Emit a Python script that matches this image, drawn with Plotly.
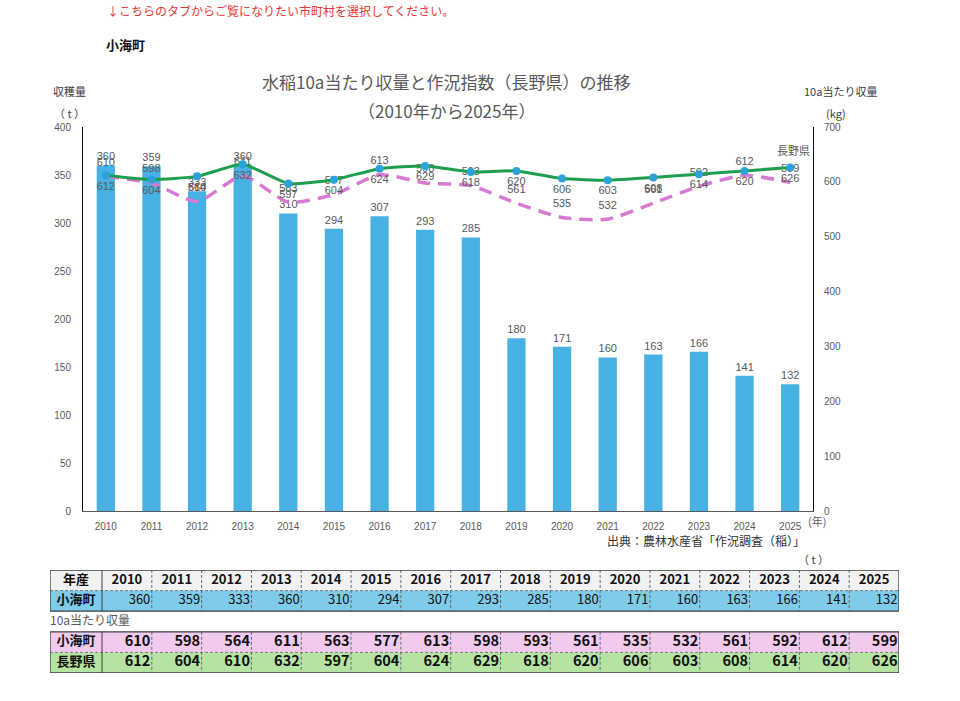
import plotly.graph_objects as go

years = [2010, 2011, 2012, 2013, 2014, 2015, 2016, 2017, 2018, 2019, 2020, 2021, 2022, 2023, 2024, 2025]
harvest_t = [360, 359, 333, 360, 310, 294, 307, 293, 285, 180, 171, 160, 163, 166, 141, 132]
yield_town = [610, 598, 564, 611, 563, 577, 613, 598, 593, 561, 535, 532, 561, 592, 612, 599]
yield_pref = [612, 604, 610, 632, 597, 604, 624, 629, 618, 620, 606, 603, 608, 614, 620, 626]
town_name = "小海町"
pref_name = "長野県"
table_head = "年産"
table_sub = "10a当たり収量"

FIG_W, FIG_H = 960, 701
L, R, T, B = 50, 61, 127, 20
W = FIG_W - L - R
H = FIG_H - T - B


def px(x, y):
    return (x - L) / W, (FIG_H - B - y) / H


JP = "Noto Sans CJK JP"
NUM = "Liberation Sans"
GRAY = "#595959"

xcat = [str(y) for y in years]

fig = go.Figure()
fig.add_trace(go.Bar(
    x=xcat, y=harvest_t, marker=dict(color="#46b1e2", line=dict(width=0)),
    text=[str(v) for v in harvest_t], textposition="outside", constraintext="none",
    textfont=dict(size=11, color=GRAY, family=NUM), cliponaxis=False,
    width=0.4, yaxis="y", name="収穫量", hoverinfo="skip",
))
fig.add_trace(go.Scatter(
    x=xcat, y=yield_town, mode="lines+markers+text", yaxis="y2",
    line=dict(color="#d67ad2", width=3.5, dash="13px,8px", shape="spline", smoothing=0.6),
    marker=dict(size=11, color="rgba(0,0,0,0)"),
    text=[str(v) for v in yield_town], textposition="top center",
    textfont=dict(size=11, color=GRAY, family=NUM), cliponaxis=False, name=town_name,
))
fig.add_trace(go.Scatter(
    x=xcat, y=yield_pref, mode="lines+markers+text", yaxis="y2",
    line=dict(color="#1e9f4e", width=3, shape="spline", smoothing=0.5),
    marker=dict(size=8, color="#2ba3d9"),
    text=[str(v) for v in yield_pref], textposition="bottom center",
    textfont=dict(size=11, color=GRAY, family=NUM), cliponaxis=False, name=pref_name,
))

# ---- Data table drawn on its own axis pair (x3 / y3) ----
n = len(years)
c0 = 52 / 49.8  # first-column width in column units
ROW_HEAD, ROW_TOWN_T, ROW_SUB, ROW_TOWN_Y, ROW_PREF_Y = 0, 1, 2, 3, 4
row_fill = {ROW_HEAD: "#f2f2f2", ROW_TOWN_T: "#7fcbea", ROW_TOWN_Y: "#f1caee", ROW_PREF_Y: "#b5e3a2"}
shapes = []
for r, col in row_fill.items():
    shapes.append(dict(type="rect", xref="x3", yref="y3", x0=-c0, x1=n, y0=r - 0.5, y1=r + 0.5,
                       fillcolor=col, line=dict(width=0), layer="below"))
for top, bot in [(ROW_HEAD, ROW_TOWN_T), (ROW_TOWN_Y, ROW_PREF_Y)]:
    shapes.append(dict(type="line", xref="x3", yref="y3", x0=-c0, x1=n, y0=top + 0.5, y1=top + 0.5,
                       line=dict(color="#7a7a7a", width=1, dash="3px,2px")))
    for j in range(1, n):
        shapes.append(dict(type="line", xref="x3", yref="y3", x0=j, x1=j, y0=top - 0.5, y1=bot + 0.5,
                           line=dict(color="#6a6a6a", width=1, dash="3px,2px")))
    shapes.append(dict(type="line", xref="x3", yref="y3", x0=0, x1=0, y0=top - 0.5, y1=bot + 0.5,
                       line=dict(color="#404040", width=1)))
    shapes.append(dict(type="rect", xref="x3", yref="y3", x0=-c0, x1=n, y0=top - 0.5, y1=bot + 0.5,
                       line=dict(color="#404040", width=1.3)))

col_centers = [j + 0.5 for j in range(n)]
col_rights = [j + 0.97 for j in range(n)]
tbl = dict(xaxis="x3", yaxis="y3", mode="text", hoverinfo="skip", cliponaxis=False, showlegend=False)
fig.add_trace(go.Scatter(x=col_centers, y=[ROW_HEAD] * n, text=[f"<b>{y}</b>" for y in years],
                         textposition="middle center", textfont=dict(family=JP, size=13, color="#111"), **tbl))
fig.add_trace(go.Scatter(x=[-c0 / 2] * 4, y=[ROW_HEAD, ROW_TOWN_T, ROW_TOWN_Y, ROW_PREF_Y],
                         text=[f"<b>{table_head}</b>", f"<b>{town_name}</b>", f"<b>{town_name}</b>", f"<b>{pref_name}</b>"],
                         textposition="middle center", textfont=dict(family=JP, size=13, color="#111"), **tbl))
fig.add_trace(go.Scatter(x=col_rights, y=[ROW_TOWN_T] * n, text=[str(v) for v in harvest_t],
                         textposition="middle left", textfont=dict(family=JP, size=13, color="#111"), **tbl))
fig.add_trace(go.Scatter(x=col_rights, y=[ROW_TOWN_Y] * n, text=[f"<b>{v}</b>" for v in yield_town],
                         textposition="middle left", textfont=dict(family=JP, size=14.5, color="#111"), **tbl))
fig.add_trace(go.Scatter(x=col_rights, y=[ROW_PREF_Y] * n, text=[f"<b>{v}</b>" for v in yield_pref],
                         textposition="middle left", textfont=dict(family=JP, size=14.5, color="#111"), **tbl))
fig.add_trace(go.Scatter(x=[-c0], y=[ROW_SUB], text=[table_sub],
                         textposition="middle right", textfont=dict(family=JP, size=12, color=GRAY), **tbl))

ax_x0, _ = px(83, 0)
ax_x1, _ = px(813, 0)
_, ax_y0 = px(0, 511)
_, tb_y0 = px(0, 673)
_, tb_y1 = px(0, 570)

annos = []


def note(text, x, y, size=11, color=GRAY, xanchor="center", family=JP):
    ax, ay = px(x, y)
    annos.append(dict(text=text, x=ax, y=ay, xref="paper", yref="paper", showarrow=False,
                      xanchor=xanchor, yanchor="middle", font=dict(size=size, color=color, family=family)))


note("↓こちらのタブからご覧になりたい市町村を選択してください。", 105, 11, size=12, color="#e53935", xanchor="left")
note(f"<b>{town_name}</b>", 104, 45, size=13, color="#111111", xanchor="left")
note("水稲10a当たり収量と作況指数（長野県）の推移", 446, 82, size=17, color=GRAY)
note("（2010年から2025年）", 446, 110, size=17, color=GRAY)
note("収穫量", 69, 91, size=11, color="#404040")
note("（ t ）", 69, 113, size=11, color="#404040")
note("10a当たり収量", 802, 91, size=11, color="#404040", xanchor="left")
note("(kg)", 824, 113, size=11, color="#404040", xanchor="left")
note(pref_name, 793, 150, size=11, color=GRAY)
note("(年)", 806, 521, size=11, color=GRAY, xanchor="left")
note("出典：農林水産省「作況調査（稲）」", 807, 540, size=12, color="#333333", xanchor="right")
note("（ t ）", 813, 559, size=11, color="#404040")

fig.update_layout(
    width=FIG_W, height=FIG_H,
    margin=dict(l=L, r=R, t=T, b=B, pad=0),
    paper_bgcolor="white", plot_bgcolor="white",
    showlegend=False, annotations=annos, shapes=shapes,
    xaxis=dict(domain=[ax_x0, ax_x1], type="category", range=[-0.5, len(years) - 0.5],
               showline=True, linecolor="#595959", linewidth=1, showgrid=False, ticks="",
               tickfont=dict(size=10, color=GRAY, family=NUM), ticklabelstandoff=6, anchor="y"),
    yaxis=dict(domain=[ax_y0, 1], range=[0, 400], dtick=50, showgrid=False, zeroline=False,
               showline=True, linecolor="#111111", linewidth=1, ticks="",
               tickfont=dict(size=10, color=GRAY, family=NUM), ticklabelstandoff=9),
    yaxis2=dict(domain=[ax_y0, 1], range=[0, 700], dtick=100, overlaying="y", side="right",
                anchor="x", showgrid=False, zeroline=False,
                showline=True, linecolor="#111111", linewidth=1, ticks="",
                tickfont=dict(size=10, color=GRAY, family=NUM), ticklabelstandoff=8),
    xaxis3=dict(domain=[0, 1], range=[-c0, n], visible=False, anchor="y3", fixedrange=True),
    yaxis3=dict(domain=[tb_y0, tb_y1], range=[4.5, -0.5], visible=False, anchor="x3", fixedrange=True),
)

fig.write_html("out.html")
